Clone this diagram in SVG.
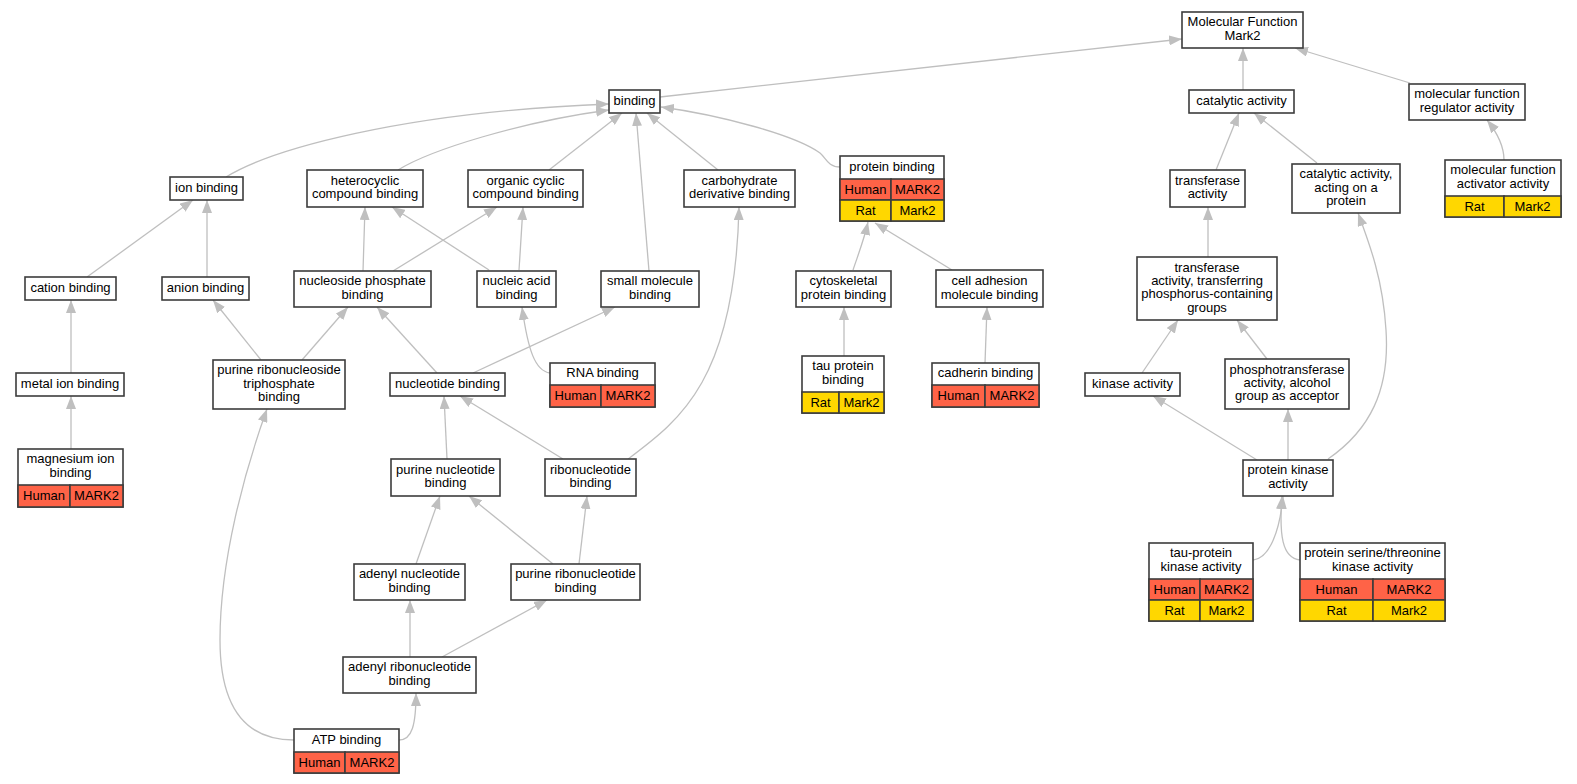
<svg xmlns="http://www.w3.org/2000/svg" width="1577" height="784" viewBox="0 0 1577 784">
<style>
rect{fill:#fff;stroke:#3c3c3c;stroke-width:1.6}
rect.r{fill:#ff6347}
rect.y{fill:#ffd700}
text{font-family:"Liberation Sans",Arial,sans-serif;font-size:13px;text-anchor:middle;fill:#000}
#edges path{fill:none;stroke:#bfbfbf;stroke-width:1.3;marker-end:url(#a)}
</style>
<defs>
<marker id="a" markerUnits="userSpaceOnUse" markerWidth="13" markerHeight="10" refX="13" refY="5" orient="auto" viewBox="0 0 13 10"><path d="M0,0 L13,5 L0,10 z" fill="#bfbfbf"/></marker>
</defs>
<rect x="0" y="0" width="1577" height="784" style="fill:#fff;stroke:none"/>
<g id="edges">
<path d="M660,97 L1182,39"/>
<path d="M1243,90 L1243,48"/>
<path d="M1410,83 L1295,48"/>
<path d="M226,177 C270,150 400,112 609,104"/>
<path d="M398,170 C430,150 520,122 609,110"/>
<path d="M549,170 L622,113"/>
<path d="M649,271 L636,113"/>
<path d="M718,170 L647,113"/>
<path d="M840,167 C828,167 826,158 820,153 C795,135 720,115 661,107"/>
<path d="M87,277 L193,200"/>
<path d="M207,277 L207,200"/>
<path d="M363,271 L365,207"/>
<path d="M489,270 L392,207"/>
<path d="M393,271 L497,207"/>
<path d="M519,270 L523,207"/>
<path d="M71,373 L71,300"/>
<path d="M261,360 L213,300"/>
<path d="M302,360 L348,307"/>
<path d="M437,373 L377,307"/>
<path d="M473,373 L615,307"/>
<path d="M550,373 C535,371 528,350 522,307"/>
<path d="M628,459 C680,420 735,380 739,207"/>
<path d="M853,270 C858,255 864,240 868,222"/>
<path d="M952,270 L875,223"/>
<path d="M844,356 L844,307"/>
<path d="M985,363 L987,307"/>
<path d="M1216,170 L1239,113"/>
<path d="M1317,163 L1254,113"/>
<path d="M1504,160 C1504,145 1495,130 1487,120"/>
<path d="M1208,257 L1208,207"/>
<path d="M1142,373 L1178,320"/>
<path d="M1267,359 L1237,320"/>
<path d="M1257,460 L1153,396"/>
<path d="M1288,460 L1288,409"/>
<path d="M1328,459 C1370,430 1390,390 1386,330 C1383,280 1370,245 1358,213"/>
<path d="M1253,560 C1270,558 1280,530 1283,496"/>
<path d="M1300,560 C1282,558 1279,535 1282,496"/>
<path d="M71,449 L71,396"/>
<path d="M447,459 L444,396"/>
<path d="M563,459 L460,396"/>
<path d="M416,564 L440,496"/>
<path d="M553,564 L469,496"/>
<path d="M579,564 L587,496"/>
<path d="M410,657 L410,600"/>
<path d="M442,657 L547,600"/>
<path d="M399,740 C412,740 416,725 416,693"/>
<path d="M294,740 C240,740 220,700 220,640 C220,560 245,470 267,409"/>
</g>
<g id="mf"><rect x="1182" y="12" width="121" height="36"/><text x="1242.5" y="26.4">Molecular Function</text><text x="1242.5" y="39.7">Mark2</text></g>
<g id="binding"><rect x="609" y="90" width="51" height="23"/><text x="634.5" y="104.5">binding</text></g>
<g id="catalytic"><rect x="1189" y="90" width="105" height="23"/><text x="1241.5" y="104.5">catalytic activity</text></g>
<g id="regulator"><rect x="1409" y="84" width="116" height="36"/><text x="1467" y="98.4">molecular function</text><text x="1467" y="111.7">regulator activity</text></g>
<g id="ion"><rect x="170" y="177" width="73" height="23"/><text x="206.5" y="191.5">ion binding</text></g>
<g id="heterocyclic"><rect x="307" y="170" width="116" height="37"/><text x="365" y="184.9">heterocyclic</text><text x="365" y="198.2">compound binding</text></g>
<g id="organic"><rect x="468" y="170" width="115" height="37"/><text x="525.5" y="184.9">organic cyclic</text><text x="525.5" y="198.2">compound binding</text></g>
<g id="carbohydrate"><rect x="684" y="170" width="111" height="37"/><text x="739.5" y="184.9">carbohydrate</text><text x="739.5" y="198.2">derivative binding</text></g>
<g id="protein_binding"><rect x="840" y="156" width="104" height="65"/><text x="892" y="170.5">protein binding</text><rect class="r" x="840" y="179" width="51" height="21"/><rect class="r" x="891" y="179" width="53" height="21"/><rect class="y" x="840" y="200" width="51" height="21"/><rect class="y" x="891" y="200" width="53" height="21"/><text x="865.5" y="193.5">Human</text><text x="917.5" y="193.5">MARK2</text><text x="865.5" y="214.5">Rat</text><text x="917.5" y="214.5">Mark2</text></g>
<g id="transferase"><rect x="1170" y="170" width="75" height="37"/><text x="1207.5" y="184.9">transferase</text><text x="1207.5" y="198.2">activity</text></g>
<g id="acting"><rect x="1292" y="164" width="108" height="49"/><text x="1346" y="178.2">catalytic activity,</text><text x="1346" y="191.5">acting on a</text><text x="1346" y="204.8">protein</text></g>
<g id="activator"><rect x="1445" y="160" width="116" height="57"/><text x="1503" y="174.4">molecular function</text><text x="1503" y="187.7">activator activity</text><rect class="y" x="1445" y="196" width="59" height="21"/><rect class="y" x="1504" y="196" width="57" height="21"/><text x="1474.5" y="210.5">Rat</text><text x="1532.5" y="210.5">Mark2</text></g>
<g id="cation"><rect x="25" y="277" width="91" height="23"/><text x="70.5" y="291.5">cation binding</text></g>
<g id="anion"><rect x="162" y="277" width="87" height="23"/><text x="205.5" y="291.5">anion binding</text></g>
<g id="nucleoside_phosphate"><rect x="294" y="271" width="137" height="36"/><text x="362.5" y="285.4">nucleoside phosphate</text><text x="362.5" y="298.7">binding</text></g>
<g id="nucleic_acid"><rect x="477" y="271" width="79" height="36"/><text x="516.5" y="285.4">nucleic acid</text><text x="516.5" y="298.7">binding</text></g>
<g id="small_molecule"><rect x="601" y="271" width="98" height="36"/><text x="650" y="285.4">small molecule</text><text x="650" y="298.7">binding</text></g>
<g id="cytoskeletal"><rect x="796" y="271" width="95" height="36"/><text x="843.5" y="285.4">cytoskeletal</text><text x="843.5" y="298.7">protein binding</text></g>
<g id="cell_adhesion"><rect x="936" y="270" width="107" height="37"/><text x="989.5" y="285.4">cell adhesion</text><text x="989.5" y="298.7">molecule binding</text></g>
<g id="transferring"><rect x="1137" y="257" width="140" height="63"/><text x="1207" y="271.6">transferase</text><text x="1207" y="284.9">activity, transferring</text><text x="1207" y="298.2">phosphorus-containing</text><text x="1207" y="311.5">groups</text></g>
<g id="metal_ion"><rect x="16" y="373" width="108" height="23"/><text x="70" y="387.5">metal ion binding</text></g>
<g id="purine_ribonucleoside_triphosphate"><rect x="213" y="360" width="132" height="49"/><text x="279" y="374.2">purine ribonucleoside</text><text x="279" y="387.5">triphosphate</text><text x="279" y="400.8">binding</text></g>
<g id="nucleotide"><rect x="390" y="373" width="115" height="23"/><text x="447.5" y="387.5">nucleotide binding</text></g>
<g id="rna"><rect x="550" y="363" width="105" height="44"/><text x="602.5" y="377">RNA binding</text><rect class="r" x="550" y="385" width="51" height="22"/><rect class="r" x="601" y="385" width="54" height="22"/><text x="575.5" y="400">Human</text><text x="628" y="400">MARK2</text></g>
<g id="tau_protein"><rect x="802" y="356" width="82" height="57"/><text x="843" y="370.4">tau protein</text><text x="843" y="383.7">binding</text><rect class="y" x="802" y="392" width="37" height="21"/><rect class="y" x="839" y="392" width="45" height="21"/><text x="820.5" y="406.5">Rat</text><text x="861.5" y="406.5">Mark2</text></g>
<g id="cadherin"><rect x="932" y="363" width="107" height="44"/><text x="985.5" y="377">cadherin binding</text><rect class="r" x="932" y="385" width="53" height="22"/><rect class="r" x="985" y="385" width="54" height="22"/><text x="958.5" y="400">Human</text><text x="1012" y="400">MARK2</text></g>
<g id="kinase"><rect x="1085" y="373" width="95" height="23"/><text x="1132.5" y="387.5">kinase activity</text></g>
<g id="phosphotransferase"><rect x="1225" y="359" width="124" height="50"/><text x="1287" y="373.7">phosphotransferase</text><text x="1287" y="387">activity, alcohol</text><text x="1287" y="400.3">group as acceptor</text></g>
<g id="magnesium"><rect x="18" y="449" width="105" height="58"/><text x="70.5" y="463.4">magnesium ion</text><text x="70.5" y="476.7">binding</text><rect class="r" x="18" y="485" width="52" height="22"/><rect class="r" x="70" y="485" width="53" height="22"/><text x="44" y="500">Human</text><text x="96.5" y="500">MARK2</text></g>
<g id="purine_nucleotide"><rect x="391" y="459" width="109" height="37"/><text x="445.5" y="473.9">purine nucleotide</text><text x="445.5" y="487.2">binding</text></g>
<g id="ribonucleotide"><rect x="545" y="459" width="91" height="37"/><text x="590.5" y="473.9">ribonucleotide</text><text x="590.5" y="487.2">binding</text></g>
<g id="protein_kinase"><rect x="1243" y="460" width="90" height="36"/><text x="1288" y="474.4">protein kinase</text><text x="1288" y="487.7">activity</text></g>
<g id="adenyl_nucleotide"><rect x="354" y="564" width="111" height="36"/><text x="409.5" y="578.4">adenyl nucleotide</text><text x="409.5" y="591.7">binding</text></g>
<g id="purine_ribonucleotide"><rect x="511" y="564" width="129" height="36"/><text x="575.5" y="578.4">purine ribonucleotide</text><text x="575.5" y="591.7">binding</text></g>
<g id="tau_protein_kinase"><rect x="1149" y="543" width="104" height="78"/><text x="1201" y="557.4">tau-protein</text><text x="1201" y="570.7">kinase activity</text><rect class="r" x="1149" y="579" width="51" height="21"/><rect class="r" x="1200" y="579" width="53" height="21"/><rect class="y" x="1149" y="600" width="51" height="21"/><rect class="y" x="1200" y="600" width="53" height="21"/><text x="1174.5" y="593.5">Human</text><text x="1226.5" y="593.5">MARK2</text><text x="1174.5" y="614.5">Rat</text><text x="1226.5" y="614.5">Mark2</text></g>
<g id="ser_thr_kinase"><rect x="1300" y="543" width="145" height="78"/><text x="1372.5" y="557.4">protein serine/threonine</text><text x="1372.5" y="570.7">kinase activity</text><rect class="r" x="1300" y="579" width="73" height="21"/><rect class="r" x="1373" y="579" width="72" height="21"/><rect class="y" x="1300" y="600" width="73" height="21"/><rect class="y" x="1373" y="600" width="72" height="21"/><text x="1336.5" y="593.5">Human</text><text x="1409" y="593.5">MARK2</text><text x="1336.5" y="614.5">Rat</text><text x="1409" y="614.5">Mark2</text></g>
<g id="adenyl_ribonucleotide"><rect x="343" y="657" width="133" height="36"/><text x="409.5" y="671.4">adenyl ribonucleotide</text><text x="409.5" y="684.7">binding</text></g>
<g id="atp"><rect x="294" y="729" width="105" height="44"/><text x="346.5" y="743.5">ATP binding</text><rect class="r" x="294" y="752" width="51" height="21"/><rect class="r" x="345" y="752" width="54" height="21"/><text x="319.5" y="766.5">Human</text><text x="372" y="766.5">MARK2</text></g>
</svg>
